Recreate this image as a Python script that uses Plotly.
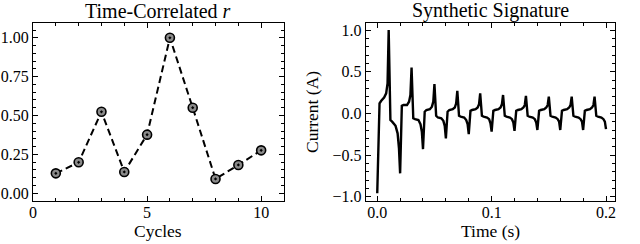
import plotly.graph_objects as go

# ---------------- data ----------------
cycles = [1, 2, 3, 4, 5, 6, 7, 8, 9, 10]
r_values = [0.128, 0.199, 0.524, 0.137, 0.377, 1.00, 0.55, 0.092, 0.182, 0.276]

time_s = [
    0.0000, 0.0020, 0.0035, 0.0060, 0.0078, 0.0090, 0.0100, 0.0115, 0.0130, 0.0160, 0.0178, 0.0190,
    0.0200, 0.0215, 0.0230, 0.0260, 0.0278, 0.0290, 0.0300, 0.0315, 0.0330, 0.0360, 0.0378, 0.0390,
    0.0400, 0.0415, 0.0430, 0.0460, 0.0478, 0.0490, 0.0500, 0.0515, 0.0530, 0.0560, 0.0578, 0.0590,
    0.0600, 0.0615, 0.0630, 0.0660, 0.0678, 0.0690, 0.0700, 0.0715, 0.0730, 0.0760, 0.0778, 0.0790,
    0.0800, 0.0815, 0.0830, 0.0860, 0.0878, 0.0890, 0.0900, 0.0915, 0.0930, 0.0960, 0.0978, 0.0990,
    0.1000, 0.1015, 0.1030, 0.1060, 0.1078, 0.1090, 0.1100, 0.1115, 0.1130, 0.1160, 0.1178, 0.1190,
    0.1200, 0.1215, 0.1230, 0.1260, 0.1278, 0.1290, 0.1300, 0.1315, 0.1330, 0.1360, 0.1378, 0.1390,
    0.1400, 0.1415, 0.1430, 0.1460, 0.1478, 0.1490, 0.1500, 0.1515, 0.1530, 0.1560, 0.1578, 0.1590,
    0.1600, 0.1615, 0.1630, 0.1660, 0.1678, 0.1690, 0.1700, 0.1715, 0.1730, 0.1760, 0.1778, 0.1790,
    0.1800, 0.1815, 0.1830, 0.1860, 0.1878, 0.1890, 0.1900, 0.1915, 0.1930, 0.1960, 0.1978, 0.1990,
    0.2000,
]
current_a = [
    -0.96, 0.12, 0.15, 0.19, 0.24, 0.36, 1.00, -0.08, -0.10, -0.15, -0.24, -0.42,
    -0.72, 0.09, 0.10, 0.10, 0.14, 0.22, 0.55, -0.06, -0.07, -0.08, -0.13, -0.22,
    -0.43, 0.02, 0.04, 0.05, 0.08, 0.14, 0.35, -0.03, -0.05, -0.06, -0.09, -0.15,
    -0.30, 0.02, 0.04, 0.05, 0.07, 0.12, 0.27, -0.03, -0.04, -0.05, -0.08, -0.13,
    -0.25, 0.03, 0.04, 0.05, 0.07, 0.11, 0.24, -0.03, -0.04, -0.05, -0.07, -0.12,
    -0.22, 0.03, 0.04, 0.05, 0.07, 0.11, 0.22, -0.03, -0.04, -0.05, -0.07, -0.11,
    -0.21, 0.03, 0.04, 0.05, 0.07, 0.10, 0.21, -0.03, -0.04, -0.05, -0.07, -0.11,
    -0.20, 0.03, 0.04, 0.05, 0.07, 0.10, 0.20, -0.03, -0.04, -0.05, -0.07, -0.10,
    -0.20, 0.03, 0.04, 0.05, 0.07, 0.10, 0.20, -0.03, -0.04, -0.05, -0.07, -0.10,
    -0.20, 0.03, 0.04, 0.05, 0.07, 0.10, 0.20, -0.03, -0.04, -0.05, -0.07, -0.10,
    -0.19,
]

left_xticks = [0, 5, 10]
left_yticks = [0.00, 0.25, 0.50, 0.75, 1.00]
left_yticklabels = ["0.00", "0.25", "0.50", "0.75", "1.00"]
right_xticks = [0.0, 0.1, 0.2]
right_xticklabels = ["0.0", "0.1", "0.2"]
right_yticks = [-1.0, -0.5, 0.0, 0.5, 1.0]
right_yticklabels = ["\u22121.0", "\u22120.5", "0.0", "0.5", "1.0"]

FONT = "Liberation Serif"
TICK = 16
LAB = 17.5
TTL = 20

fig = go.Figure()
fig.add_trace(go.Scatter(
    x=cycles, y=r_values, mode="lines+markers", xaxis="x", yaxis="y",
    line=dict(color="black", width=2, dash="7px,4px"),
    marker=dict(symbol="circle-dot", size=9, color="#8a8a8a",
                line=dict(color="black", width=1.6)),
    showlegend=False,
))
fig.add_trace(go.Scatter(
    x=time_s, y=current_a, mode="lines", xaxis="x2", yaxis="y2",
    line=dict(color="black", width=2.4),
    showlegend=False,
))

axis_common = dict(
    showgrid=False, zeroline=False, showline=True, linecolor="black", linewidth=1,
    mirror="allticks", ticks="inside", ticklen=5, tickwidth=1, tickcolor="black",
    tickfont=dict(family=FONT, size=TICK, color="black"), automargin=False,
)

LX = [0.0516, 0.4437]
RX = [0.5714, 0.961]
YD = [0.1762, 0.9057]

fig.update_layout(
    template="none",
    width=640, height=244,
    margin=dict(l=0, r=0, t=0, b=0, autoexpand=False),
    paper_bgcolor="white", plot_bgcolor="white",
    font=dict(family=FONT, color="black"),
    xaxis=dict(domain=LX, range=[0, 11], tickvals=left_xticks,
               minor=dict(dtick=1, ticks="inside", ticklen=3, tickcolor="black"),
               ticklabelstandoff=-3, anchor="y", **axis_common),
    yaxis=dict(domain=YD, range=[-0.05, 1.095], tickvals=left_yticks,
               ticktext=left_yticklabels,
               minor=dict(dtick=0.05, ticks="inside", ticklen=3, tickcolor="black"),
               anchor="x", **axis_common),
    xaxis2=dict(domain=RX, range=[-0.0101, 0.2079], tickvals=right_xticks,
                ticktext=right_xticklabels,
                minor=dict(dtick=0.02, ticks="inside", ticklen=3, tickcolor="black"),
                ticklabelstandoff=-3, anchor="y2", **axis_common),
    yaxis2=dict(domain=YD, range=[-1.052, 1.084], tickvals=right_yticks,
                ticktext=right_yticklabels,
                minor=dict(dtick=0.1, ticks="inside", ticklen=3, tickcolor="black"),
                anchor="x2", **axis_common),
    annotations=[
        dict(text="Time-Correlated <i>r</i>", x=sum(LX) / 2, y=1 - 11 / 244, xref="paper",
             yref="paper", xanchor="center", yanchor="middle", showarrow=False,
             font=dict(family=FONT, size=TTL, color="black")),
        dict(text="Synthetic Signature", x=sum(RX) / 2, y=1 - 11 / 244, xref="paper",
             yref="paper", xanchor="center", yanchor="middle", showarrow=False,
             font=dict(family=FONT, size=TTL, color="black")),
        dict(text="Cycles", x=sum(LX) / 2, y=1 - 231 / 244, xref="paper",
             yref="paper", xanchor="center", yanchor="middle", showarrow=False,
             font=dict(family=FONT, size=LAB, color="black")),
        dict(text="Time (s)", x=sum(RX) / 2, y=1 - 231 / 244, xref="paper",
             yref="paper", xanchor="center", yanchor="middle", showarrow=False,
             font=dict(family=FONT, size=LAB, color="black")),
        dict(text="Current (A)", x=312 / 640, y=sum(YD) / 2, xref="paper",
             yref="paper", xanchor="center", yanchor="middle", showarrow=False,
             textangle=-90, font=dict(family=FONT, size=LAB, color="black")),
    ],
)

fig.write_html(
    "out.html",
    config={"displayModeBar": False, "staticPlot": True},
    post_script="document.body.style.margin='0';document.body.style.padding='0';",
)
